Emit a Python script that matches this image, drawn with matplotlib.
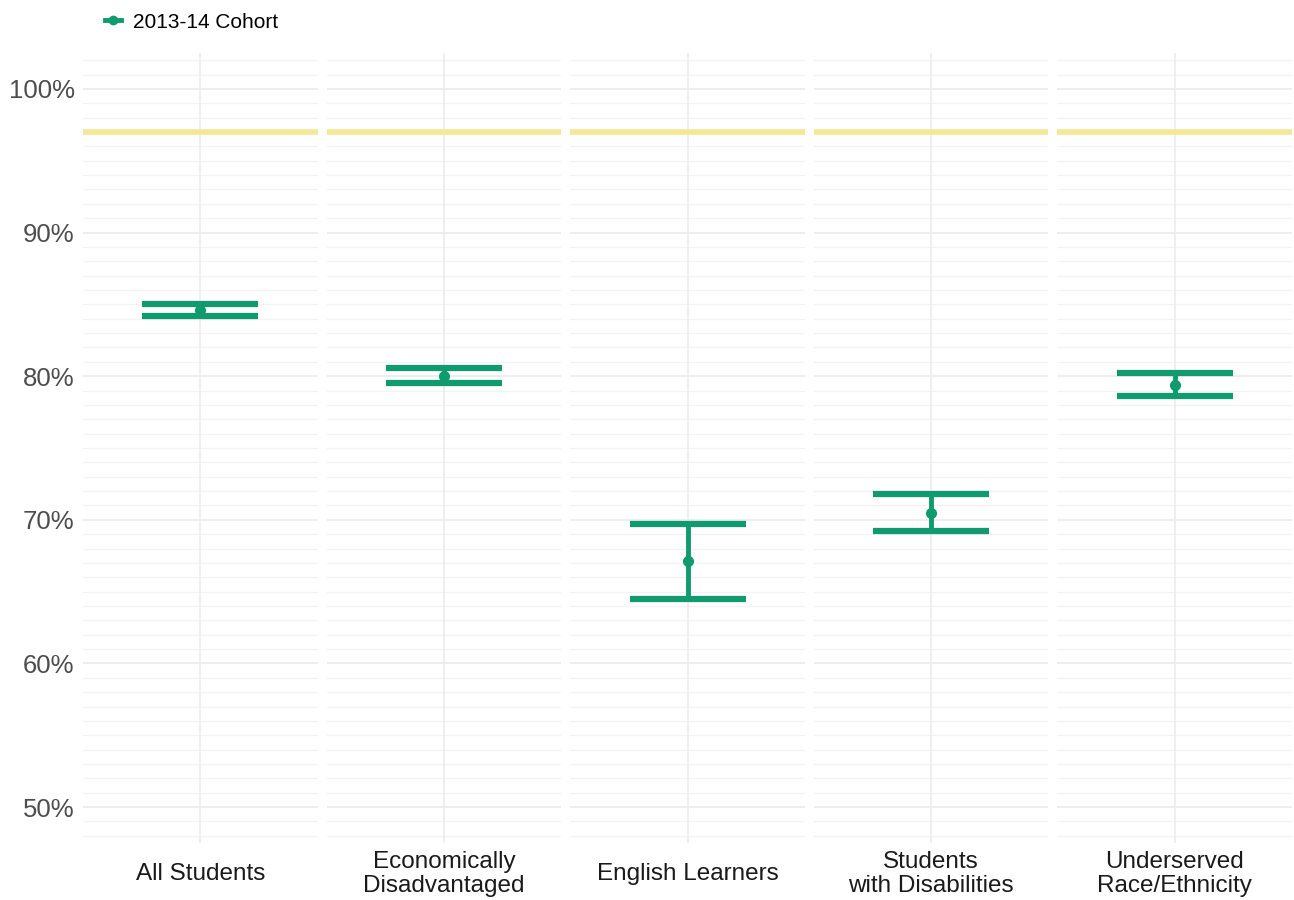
import matplotlib
matplotlib.use("Agg")
import matplotlib.pyplot as plt
from matplotlib.lines import Line2D
import numpy as np

plt.rcParams['font.family'] = ['Liberation Sans', 'DejaVu Sans']

# Graduation rates by student group, 2013-14 cohort (percent)
groups = ["All Students", "Economically\nDisadvantaged", "English Learners",
          "Students\nwith Disabilities", "Underserved\nRace/Ethnicity"]
rate = [84.6, 80.0, 67.1, 70.5, 79.4]
ci_low = [84.2, 79.5, 64.5, 69.2, 78.6]
ci_high = [85.0, 80.6, 69.7, 71.8, 80.2]
target = 97.0
series_label = "2013-14 Cohort"

yticks = [50, 60, 70, 80, 90, 100]
ytick_labels = ["50%", "60%", "70%", "80%", "90%", "100%"]

green = "#109B6F"
yellow = "#F4E896"

W, H = 1294, 900
fig = plt.figure(figsize=(W / 100, H / 100), dpi=100)

left_px, right_px = 83, 1292
gap_px = 9
n = len(groups)
panel_w = (right_px - left_px - gap_px * (n - 1)) / n
top_px, bottom_px = 53, 843

for i, g in enumerate(groups):
    x0 = left_px + i * (panel_w + gap_px)
    ax = fig.add_axes([x0 / W, 1 - bottom_px / H, panel_w / W, (bottom_px - top_px) / H])
    ax.set_xlim(0.4, 1.6)
    ax.set_ylim(47.5, 102.5)
    for s in ax.spines.values():
        s.set_visible(False)
    # grid: fine 1% lines, slightly stronger at labelled ticks
    for v in range(48, 103):
        if v % 10 == 0:
            ax.axhline(v, color="#E9E9E9", lw=1.1, zorder=0)
        else:
            ax.axhline(v, color="#F3F3F3", lw=0.9, zorder=0)
    ax.axvline(1, color="#EBEBEB", lw=1.1, zorder=0)

    ax.axhline(target, color=yellow, lw=4, zorder=1, solid_capstyle="butt")
    ax.errorbar([1], [rate[i]],
                yerr=[[rate[i] - ci_low[i]], [ci_high[i] - rate[i]]],
                fmt="o", color=green, ms=7, elinewidth=3.5, capsize=42,
                capthick=4.5, zorder=3)

    ax.set_xticks([1])
    ax.set_xticklabels([g], fontsize=17.5, color="#1A1A1A", linespacing=1.12)
    for lab in ax.get_xticklabels():
        lab.set_va("center")
    ax.tick_params(axis="x", length=0, pad=22.5)
    if i == 0:
        ax.set_yticks(yticks)
        ax.set_yticklabels(ytick_labels, fontsize=18.5, color="#4D4D4D")
        ax.tick_params(axis="y", length=0, pad=6)
    else:
        ax.set_yticks([])

handle = Line2D([0], [0], color=green, lw=3.5, marker="o", ms=6)
fig.legend([handle], [series_label], loc="upper left",
           bbox_to_anchor=(86 / W, 1 + 6 / H), frameon=False, fontsize=15,
           handlelength=0.8, handletextpad=0.55)

fig.savefig("out.png", dpi=100, facecolor="white")
